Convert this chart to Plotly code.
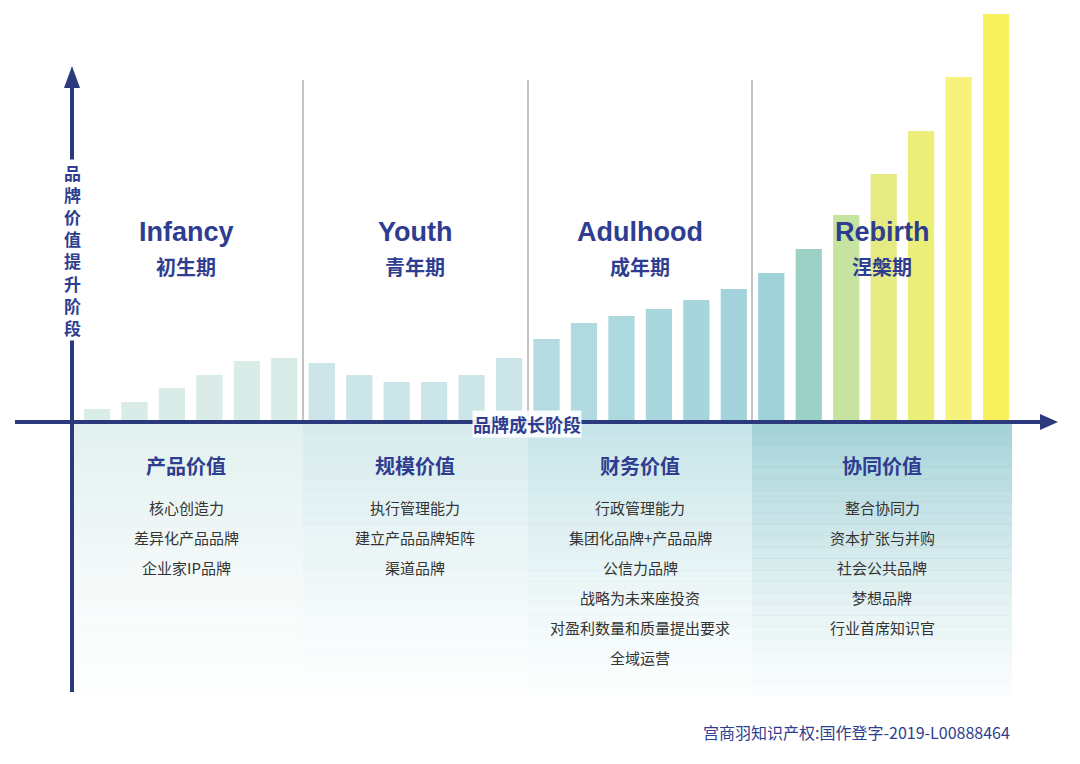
import plotly.graph_objects as go

stages = ["Infancy", "Youth", "Adulhood", "Rebirth"]
stages_cn = ["初生期", "青年期", "成年期", "涅槃期"]
values_title = ["产品价值", "规模价值", "财务价值", "协同价值"]
items = [
    ["核心创造力", "差异化产品品牌", "企业家IP品牌"],
    ["执行管理能力", "建立产品品牌矩阵", "渠道品牌"],
    ["行政管理能力", "集团化品牌+产品品牌", "公信力品牌", "战略为未来座投资", "对盈利数量和质量提出要求", "全域运营"],
    ["整合协同力", "资本扩张与并购", "社会公共品牌", "梦想品牌", "行业首席知识官"],
]
bar_values = [13, 20, 34, 47, 61, 64,
              59, 47, 40, 40, 47, 64,
              83, 99, 106, 113, 122, 133,
              149, 173, 207, 248, 291, 345, 408]
bar_colors = ["#d9ece8"] * 6 + ["#cbe5e9"] * 6 + \
             ["#b3dbe0", "#b0dadf", "#acd8de", "#a9d6dd", "#a6d5dc", "#a3d4db"] + \
             ["#9fd2d8", "#9cd2c6", "#c6e3a0", "#e5eb82", "#ecee7a", "#f7f27c", "#f8f05c"]

OFF = 8  # page offset of the figure
SX0, SDX = 97 - OFF, 37.46
def X(px): return (px - OFF - SX0) / SDX
def Y(py): return 422 - py

fig = go.Figure(go.Bar(x=list(range(len(bar_values))), y=bar_values,
                       marker=dict(color=bar_colors, line=dict(width=0)), width=0.7))

shapes = []
zones = [(72, 303, (224, 240, 238)), (303, 528, (212, 234, 236)),
         (528, 752, (196, 227, 231)), (752, 1012, (160, 208, 214))]
N = 24
top, bot = 422, 695
for x0, x1, (r, g, b) in zones:
    for k in range(N):
        t = k / N
        a = 0.9 * (1 - t) ** 1.3 + 0.04
        y0 = top + (bot - top) * k / N
        y1 = top + (bot - top) * (k + 1) / N + 0.5
        shapes.append(dict(type="rect", x0=X(x0), x1=X(x1), y0=Y(y0), y1=Y(y1),
                           fillcolor=f"rgba({r},{g},{b},{a:.3f})", line=dict(width=0), layer="below"))
for px in [303, 528, 752]:
    shapes.append(dict(type="line", x0=X(px), x1=X(px), y0=Y(80), y1=Y(422),
                       line=dict(color="#888888", width=1)))
AX = "#2b3a7c"
shapes.append(dict(type="line", x0=X(15), x1=X(1042), y0=0, y1=0, line=dict(color=AX, width=4)))
shapes.append(dict(type="line", x0=X(72), x1=X(72), y0=Y(692), y1=Y(85), line=dict(color=AX, width=4)))
shapes.append(dict(type="path", path=f"M {X(1040)} {Y(414)} L {X(1058)} {Y(422)} L {X(1040)} {Y(430)} Z",
                   fillcolor=AX, line=dict(width=0)))
shapes.append(dict(type="path", path=f"M {X(64)} {Y(88)} L {X(72)} {Y(66)} L {X(80)} {Y(88)} Z",
                   fillcolor=AX, line=dict(width=0)))

ann = []
TC = "#2e3d8f"
F = "Noto Sans CJK SC"
centers = [186, 415, 640, 882]
for i, c in enumerate(centers):
    ann.append(dict(x=X(c), y=Y(232), text=f"<b>{stages[i]}</b>", showarrow=False,
                    font=dict(family="Liberation Sans", size=27, color=TC)))
    ann.append(dict(x=X(c), y=Y(266), text=f"<b>{stages_cn[i]}</b>", showarrow=False,
                    font=dict(family=F, size=20, color=TC)))
    ann.append(dict(x=X(c), y=Y(465), text=f"<b>{values_title[i]}</b>", showarrow=False,
                    font=dict(family=F, size=20, color=TC)))
    for j, it in enumerate(items[i]):
        ann.append(dict(x=X(c), y=Y(507 + 30 * j), text=it, showarrow=False,
                        font=dict(family=F, size=15, color="#333333")))
ann.append(dict(x=X(72), y=Y(250), text="<b>" + "<br>".join("品牌价值提升阶段") + "</b>", showarrow=False,
                font=dict(family=F, size=17, color=TC), bgcolor="white", borderpad=0))
ann.append(dict(x=X(527), y=Y(424), text="<b>品牌成长阶段</b>", showarrow=False,
                font=dict(family=F, size=18, color=TC), bgcolor="rgba(255,255,255,0.9)", borderpad=0))
ann.append(dict(x=X(1012), y=Y(732), text="宫商羽知识产权:国作登字-2019-L00888464", showarrow=False,
                xanchor="right", font=dict(family=F, size=16, color=TC)))

fig.update_layout(width=1080, height=764, margin=dict(l=0, r=0, t=0, b=0),
                  paper_bgcolor="white", plot_bgcolor="white", showlegend=False,
                  xaxis=dict(range=[X(OFF), X(1080 + OFF)], visible=False, fixedrange=True),
                  yaxis=dict(range=[Y(764 + OFF), Y(OFF)], visible=False, fixedrange=True),
                  shapes=shapes, annotations=ann)
fig.write_html("out.html")
